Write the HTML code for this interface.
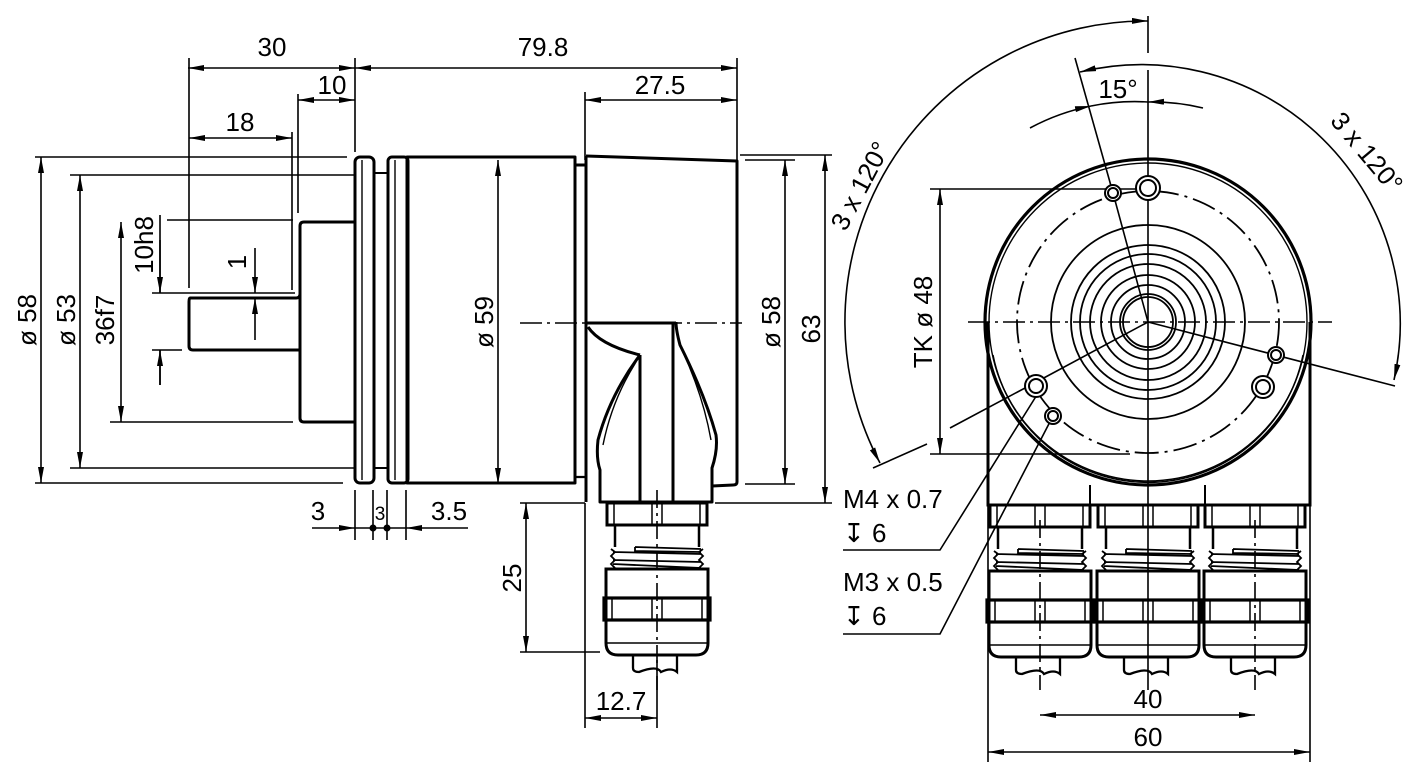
<!DOCTYPE html>
<html><head><meta charset="utf-8"><style>
html,body{margin:0;padding:0;background:#fff;}
svg{display:block;}
text{font-family:"Liberation Sans",Arial,sans-serif;font-size:26px;fill:#000;}
</style></head><body>
<svg width="1417" height="780" viewBox="0 0 1417 780" xmlns="http://www.w3.org/2000/svg">
<defs>
<marker id="a" viewBox="0 0 16 6" refX="16" refY="3" markerWidth="16" markerHeight="6" markerUnits="userSpaceOnUse" orient="auto-start-reverse">
<path d="M0,0 L16,3 L0,6 z" fill="#000"/></marker>
<g id="con" fill="none" stroke="#000">
<rect x="-50" y="0" width="100" height="22" stroke-width="3"/>
<path d="M-43,0V22M43,0V22M-5,0V22M5,0V22" stroke-width="1.5"/>
<path d="M-42,22V44M42,22V44" stroke-width="2.5"/>
<path d="M-46,46 L-42,49 L-46,53 L-42,57 L-46,61 L-42,65 M46,46 L42,49 L46,53 L42,57 L46,61 L42,65 M-44,49 L44,51 M-44,57 L44,59 M-44,61 L44,65 M-22,44 L44,46 M-22,44 L-22,48 L44,49" stroke-width="1.8"/>
<path d="M-51,66 H51 V140 Q51,152 39,152 H-39 Q-51,152 -51,140 Z" stroke-width="3"/>
<rect x="-53" y="95" width="106" height="22" stroke-width="3.2"/>
<path d="M-45,95V117M45,95V117M-5,95V117M5,95V117M-50,140H50" stroke-width="1.5"/>
<path d="M-24,152 V165 Q-24,169 -18,169 Q0,162 4,169 Q14,164 20,169 V152" stroke-width="2.3"/>
</g>
</defs>

<g fill="none" stroke="#000" stroke-width="1.6">
<path d="M188,68H355" marker-start="url(#a)" marker-end="url(#a)"/>
<path d="M355,68H737" marker-start="url(#a)" marker-end="url(#a)"/>
<path d="M298,100H355" marker-start="url(#a)" marker-end="url(#a)"/>
<path d="M585,100H737" marker-start="url(#a)" marker-end="url(#a)"/>
<path d="M189,138H292" marker-start="url(#a)" marker-end="url(#a)"/>
<path d="M189,58V288M355,58V152M298,94V213M292,132V290M585,92V160M737,58V160"/>
<path d="M41,157V483" marker-start="url(#a)" marker-end="url(#a)"/>
<path d="M80,175V468" marker-start="url(#a)" marker-end="url(#a)"/>
<path d="M121,222V422" marker-start="url(#a)" marker-end="url(#a)"/>
<path d="M35,157H347M70,175H355M35,483H343M70,468H355M110,422H293M167,220H293"/>
<path d="M160,215V293M160,350V385"/>
<path d="M160,240V293" marker-end="url(#a)"/>
<path d="M160,385V350" marker-end="url(#a)"/>
<path d="M152,293H295M152,350H182"/>
<path d="M255,248V293" marker-end="url(#a)"/>
<path d="M255,340V298" marker-end="url(#a)"/>
<path d="M355,490V540M373,490V540M387,490V540M406,490V540"/>
<path d="M312,528H355" marker-end="url(#a)"/>
<path d="M468,528H406" marker-end="url(#a)"/>
<path d="M355,528H406"/>
<path d="M498,160V484" marker-start="url(#a)" marker-end="url(#a)"/>
<path d="M785,160V484" marker-start="url(#a)" marker-end="url(#a)"/>
<path d="M825,155V503" marker-start="url(#a)" marker-end="url(#a)"/>
<path d="M745,160H795M745,484H795M740,155H832M715,503H832"/>
<path d="M526,503V652" marker-start="url(#a)" marker-end="url(#a)"/>
<path d="M520,503H585M520,652H600"/>
<path d="M585,503V728M657,660V728"/>
<path d="M585,718H657" marker-start="url(#a)" marker-end="url(#a)"/>
<path d="M520,323H742" stroke-dasharray="22,5,3,5"/>
<path d="M657,490V690" stroke-dasharray="18,5,3,5"/>
</g>
<g fill="#000"><circle cx="373" cy="528" r="3.5"/><circle cx="387" cy="528" r="3.5"/></g>

<g fill="none" stroke="#000" stroke-width="3" stroke-linejoin="round">
<path d="M190,298 H296 Q300,298 300,294 V226 Q300,222 304,222 H355 M300,294 V418 Q300,422 304,422 H355"/>
<path d="M190,298 Q189,298 189,302 V346 Q189,350 193,350 H300"/>
<rect x="355" y="157" width="19" height="326" rx="5"/>
<path d="M374,173H389M374,468H389" stroke-width="2"/>
<rect x="388" y="157" width="20" height="326" rx="4"/>
<rect x="407" y="157" width="168" height="326"/>
<path d="M575,165V477 M575,477H586" stroke-width="2.2"/>
<path d="M586,156 L737,161 V482 Q737,485 733,485 L712,486"/>
<path d="M586,156 V502 M575,165 H586"/>
<path d="M586,323 H676 M588,327 Q600,345 640,355 M640,355 V502 M673,322 V502"/>
<path d="M640,355 Q610,395 598,440 Q596,458 600,470 V502 H712 V468 Q718,450 716,435 Q705,395 680,345 Q676,330 676,322"/>
<path d="M636,362 Q612,400 603,445 M682,350 Q703,395 711,440" stroke-width="1.4"/>
<path d="M362,160V480" stroke-width="1.4"/>
<path d="M395,160V480" stroke-width="1.4"/>
</g>
<use href="#con" x="657" y="503"/>

<g fill="none" stroke="#000" stroke-width="1.6">
<path d="M1148,16V53M1148,70V690"/>
<path d="M968,322H1332" stroke-dasharray="22,5,3,5"/>
<path d="M1040,520V690M1255,520V690" stroke-dasharray="18,5,3,5"/>
<path d="M1075,58 L1113,193 L1148,322"/>
<path d="M1148,322 L1040,380 M950,428 L1040,380 M873,468 L927,444"/>
<path d="M1148,322 L1395,386"/>
<path d="M880,463 A301,301 0 0 1 1148,21" marker-start="url(#a)" marker-end="url(#a)"/>
<path d="M1080,72 A259,259 0 0 1 1394,380" marker-start="url(#a)" marker-end="url(#a)"/>
<path d="M1030,128 A220,220 0 0 1 1091,106" marker-end="url(#a)"/>
<path d="M1203,108 A220,220 0 0 0 1148,102" marker-end="url(#a)"/>
<path d="M1091,106 A220,220 0 0 1 1148,102"/>
<path d="M940,189V454" marker-start="url(#a)" marker-end="url(#a)"/>
<path d="M930,189H1148M930,454H1130"/>
<path d="M1040,715H1255" marker-start="url(#a)" marker-end="url(#a)"/>
<path d="M988,752H1310" marker-start="url(#a)" marker-end="url(#a)"/>
<path d="M988,505V762M1310,505V762"/>
<path d="M843,550H940 L1040,390 M843,634H940 L1053,416"/>
</g>
<g fill="none" stroke="#000" stroke-width="1.8">
<circle cx="1148" cy="322" r="131" stroke-dasharray="24,6,3,6"/>
<circle cx="1148" cy="322" r="97"/>
<circle cx="1148" cy="322" r="77"/>
<circle cx="1148" cy="322" r="68"/>
<circle cx="1148" cy="322" r="58"/>
<circle cx="1148" cy="322" r="47"/>
<circle cx="1148" cy="322" r="37"/>
<circle cx="1148" cy="322" r="28"/>
<circle cx="1148" cy="322" r="25"/>
</g>
<g fill="#fff" stroke="#000" stroke-width="2">
<circle cx="1148" cy="188" r="12"/><circle cx="1148" cy="188" r="8"/>
<circle cx="1113" cy="193" r="8"/><circle cx="1113" cy="193" r="5"/>
<circle cx="1276" cy="355" r="8"/><circle cx="1276" cy="355" r="5"/>
<circle cx="1263" cy="387" r="11"/><circle cx="1263" cy="387" r="7"/>
<circle cx="1053" cy="416" r="8"/><circle cx="1053" cy="416" r="5"/>
<circle cx="1036" cy="386" r="11"/><circle cx="1036" cy="386" r="7"/>
</g>
<g fill="none" stroke="#000" stroke-width="3">
<path d="M988,322 V505 H1310 V322"/>
<circle cx="1148" cy="322" r="163" stroke-width="3.2"/>
<circle cx="1148" cy="322" r="159" stroke-width="1.4"/>
<path d="M993,355 A158,158 0 0 0 1303,355" stroke-width="1.5"/>
<path d="M1090,485 V505 M1205,485 V505" stroke-width="2"/>
</g>
<use href="#con" x="1040" y="505"/>
<use href="#con" x="1148" y="505"/>
<use href="#con" x="1255" y="505"/>

<g>
<text x="272" y="56" text-anchor="middle">30</text>
<text x="543" y="56" text-anchor="middle">79.8</text>
<text x="332" y="94" text-anchor="middle">10</text>
<text x="660" y="94" text-anchor="middle">27.5</text>
<text x="240" y="131" text-anchor="middle">18</text>
<text transform="translate(36,320) rotate(-90)" text-anchor="middle">ø 58</text>
<text transform="translate(75,320) rotate(-90)" text-anchor="middle">ø 53</text>
<text transform="translate(114,320) rotate(-90)" text-anchor="middle">36f7</text>
<text transform="translate(153,245) rotate(-90)" text-anchor="middle">10h8</text>
<text transform="translate(246,262) rotate(-90)" text-anchor="middle">1</text>
<text transform="translate(493,322) rotate(-90)" text-anchor="middle">ø 59</text>
<text transform="translate(780,322) rotate(-90)" text-anchor="middle">ø 58</text>
<text transform="translate(820,329) rotate(-90)" text-anchor="middle">63</text>
<text transform="translate(521,578) rotate(-90)" text-anchor="middle">25</text>
<text x="318" y="520" text-anchor="middle">3</text>
<text x="380" y="520" text-anchor="middle" style="font-size:19px">3</text>
<text x="449" y="520" text-anchor="middle">3.5</text>
<text x="621" y="710" text-anchor="middle">12.7</text>
<text x="1118" y="98" text-anchor="middle">15°</text>
<text transform="translate(868,190) rotate(-62)" text-anchor="middle">3 x 120°</text>
<text transform="translate(1360,158) rotate(50)" text-anchor="middle">3 x 120°</text>
<text transform="translate(932,322) rotate(-90)" text-anchor="middle">TK ø 48</text>
<text x="1148" y="708" text-anchor="middle">40</text>
<text x="1148" y="746" text-anchor="middle">60</text>
<text x="843" y="508">M4 x 0.7</text>
<text x="843" y="542">↧ 6</text>
<text x="843" y="591">M3 x 0.5</text>
<text x="843" y="625">↧ 6</text>
</g>
</svg>
</body></html>
